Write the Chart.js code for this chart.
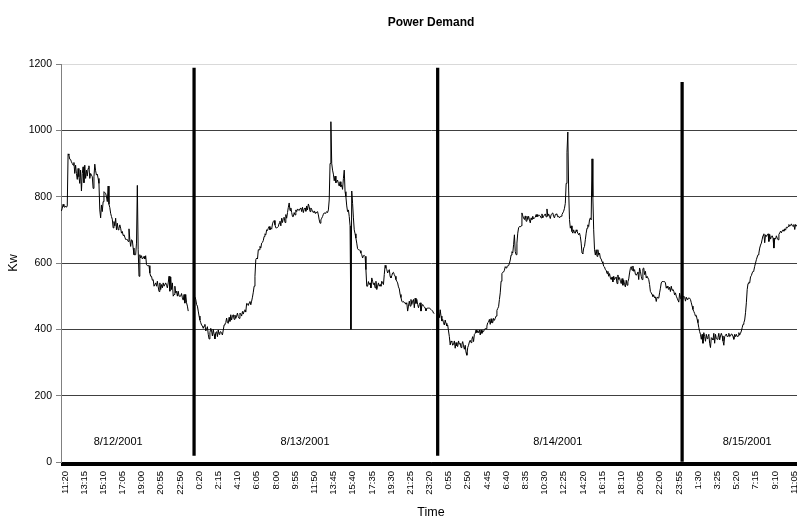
<!DOCTYPE html>
<html>
<head>
<meta charset="utf-8">
<script src="https://cdn.jsdelivr.net/npm/chart.js@4/dist/chart.umd.min.js"></script>
<style>
html,body{margin:0;padding:0;overflow:hidden;background:#fff}
#wrap{width:801px;height:527px}
</style>
</head>
<body>
<div id="wrap"><canvas id="c" width="801" height="527"></canvas></div>
<script>
// ---- tick labels shown on the category axis (one every 23 categories) ----
const tickLabels = ['11:20','13:15','15:10','17:05','19:00','20:55','22:50',
  '0:20','2:15','4:10','6:05','8:00','9:55','11:50','13:45','15:40','17:35','19:30','21:25','23:20',
  '0:55','2:50','4:45','6:40','8:35','10:30','12:25','14:20','16:15','18:10','20:05','22:00','23:55',
  '1:30','3:25','5:20','7:15','9:10','11:05'];
const tickEvery = 23;

// ---- power demand (Kw), 5-minute readings per day ----
const day1Kw = [757,765,777,770,768,772,768,772,929,925,
913,912,905,900,895,903,870,895,870,852,
885,860,840,880,817,870,890,842,895,855,
880,862,885,893,855,870,865,860,825,860,
898,878,865,868,855,840,760,736,775,755,
785,815,812,810,800,785,832,777,767,750,
740,732,706,725,712,735,700,720,700,705,
715,705,690,695,683,685,678,671,671,671,
665,703,670,650,670,668,645,625,625,625,
660,834,640,560,625,615,622,612,615,620,
612,622,595,592,592,592,570,560,560,548,
550,530,530,540,530,545,528,514,540,520,
535,525,540,530,530,540,533,525,540,560,
515,558,520,540,500,505,530,510,515,500,
515,500,500,500,508,495,488,505,479,505,
480,470,455];

const day2Kw = [498,490,475,470,455,440,428,420,413,410,
403,410,415,395,400,408,385,371,390,403,
395,380,400,385,371,390,393,378,398,385,
392,393,388,383,398,413,416,420,434,420,
418,436,424,444,428,440,444,430,443,433,
440,449,438,433,449,446,440,454,446,455,
459,452,478,477,472,480,484,474,485,497,
512,530,560,610,615,612,640,640,650,645,
660,662,668,680,688,685,700,698,705,710,
700,705,702,718,725,728,715,706,706,707,
710,720,726,712,735,722,735,738,722,746,
735,752,768,781,758,766,752,740,740,752,
745,760,755,763,760,758,764,766,755,768,
752,762,766,756,772,760,778,770,755,766,
762,755,752,757,750,754,752,755,745,730,
720,730,735,740,747,751,750,751,755,752,
760,790,900,1026,900,880,868,848,862,842,
845,850,840,832,845,830,835,822,855,880,
815,800,772,755,760,740,712,400,817,780,
736,700,688,675,660,643,640,640,637,630,
625,615,622,623,620,580,530,530,544,535,
540,525,555,545,535,540,525,545,520,530,
540,530,535,530,545,540,535,565,593,585,
580,570,575,580,560,555,562,570,572,565,
560,550,545,540,528,522,505,496,485,482,
484,480,480,476,480,455,470,485,470,490,
475,485,490,465,494,478,490,475,465,475,
480,455,470,475,470,468,464,456,462,464,
464,464,462,460,460,455,449,448];

const day3Kw = [448,435,459,440,425,430,420,413,
428,418,410,413,395,378,353,365,362,352,
355,365,343,360,350,348,365,355,358,345,
355,363,350,340,352,330,322,345,352,362,
367,360,370,378,363,385,388,398,390,395,
390,398,383,398,388,395,393,400,402,402,
410,420,422,430,415,432,420,420,433,427,
433,440,457,463,468,490,510,545,568,572,
573,578,589,585,590,591,592,599,609,624,
634,630,655,685,634,625,660,690,706,710,
709,712,751,742,735,731,742,726,741,731,
741,730,721,736,731,741,733,736,738,746,
739,746,741,744,742,736,748,736,741,745,
748,739,763,741,748,741,734,746,746,751,
740,736,746,748,746,739,741,736,740,741,
746,751,756,765,780,840,934,995,820,731,
705,712,695,690,700,691,690,700,695,690,
685,690,680,660,630,628,645,650,670,690,
705,715,710,730,736,730,914,800,700,640,
624,640,620,640,625,630,615,612,604,600,
590,588,580,578,568,575,560,568,555,550,
558,543,560,550,555,558,538,564,550,556,
545,538,553,533,548,535,528,548,533,543,
552,570,584,589,578,591,575,580,566,563,
568,573,550,585,575,560,550,583,585,565,
575,555,560,560,550,535,514,510,505,499,
503,495,498,484,497,497,494,510,524,540,
544,544,544,544,540,524,530,525,520,527,
514,530,518,520,515,504,510,500,494,494,
482,509,495,490];

const day4Kw = [490,495,500,497,485,497,
490,494,494,494,490,480,470,460,454,448,
440,442,430,420,405,393,385,370,385,358,
390,378,364,385,372,378,385,358,345,375,
372,368,388,358,385,372,370,375,388,368,
380,388,380,365,352,378,382,386,378,380,
388,378,380,386,385,378,370,385,378,385,
378,380,390,383,388,395,405,415,420,428,
450,480,520,538,542,540,558,562,570,575,
578,590,600,610,618,625,630,645,654,660,
672,683,688,661,685,680,685,688,665,686,
672,680,682,675,645,675,672,682,675,670,
686,691,696,691,697,700,696,703,699,708,
706,710,716,711,713,718,712,711,716,701,
716,711,715,710,718,712,715];

// empty categories after day 1, day 2, day 3
const gapAfterDay = [7, 4, 0];

// day separators (category index and Kw range)
const separatorAt = [159, 451, 744];
const separatorRange = [[20, 1188], [20, 1188], [0, 1145]];

// date annotations
const dayLabels = ['8/12/2001', '8/13/2001', '8/14/2001', '8/15/2001'];
const dayLabelAt = [68, 292, 595, 822];
const dayLabelKw = 61;

// ---- build the series ----
const days = [day1Kw, day2Kw, day3Kw, day4Kw];
let kw = [];
days.forEach((d, i) => {
  kw = kw.concat(d);
  if (i < gapAfterDay.length) kw = kw.concat(new Array(gapAfterDay[i]).fill(null));
});
const categories = kw.map((_, i) =>
  (i % tickEvery === 0 && tickLabels[i / tickEvery] !== undefined) ? tickLabels[i / tickEvery] : '');
const sepData = kw.map(() => null);
separatorAt.forEach((idx, i) => { sepData[idx] = separatorRange[i]; });

const FONT = "'Liberation Sans', Arial, Helvetica, sans-serif";

const dayLabelPlugin = {
  id: 'dayLabels',
  afterDatasetsDraw(chart) {
    const { ctx, scales: { x, y } } = chart;
    ctx.save();
    ctx.font = '11px ' + FONT;
    ctx.fillStyle = '#000';
    ctx.textAlign = 'center';
    ctx.textBaseline = 'middle';
    dayLabels.forEach((t, i) => {
      ctx.fillText(t, x.getPixelForValue(dayLabelAt[i]), y.getPixelForValue(dayLabelKw));
    });
    ctx.restore();
  }
};

new Chart(document.getElementById('c'), {
  type: 'line',
  data: {
    labels: categories,
    datasets: [
      { type: 'line', label: 'Kw', data: kw, borderColor: '#000', borderWidth: 1,
        pointRadius: 0, tension: 0, spanGaps: false, order: 2 },
      { type: 'bar', label: 'Day', data: sepData, backgroundColor: '#000',
        barThickness: 2.6, order: 1 }
    ]
  },
  options: {
    responsive: false,
    animation: false,
    layout: { padding: 0 },
    plugins: {
      legend: { display: false },
      tooltip: { enabled: false },
      title: {
        display: true, text: 'Power Demand', fullSize: false, color: '#000',
        font: { family: FONT, size: 12, weight: 'bold' },
        padding: { top: 15, bottom: 34.6 }
      }
    },
    scales: {
      x: {
        type: 'category',
        offset: true,
        grid: { offset: true, drawOnChartArea: false, drawTicks: true, tickLength: 4, color: '#000', lineWidth: 1 },
        border: { color: '#000' },
        ticks: { autoSkip: false, maxRotation: 90, minRotation: 90, padding: 5, labelOffset: 3.5,
                 color: '#000', font: { family: FONT, size: 9.5 } },
        title: { display: true, text: 'Time', color: '#000', font: { family: FONT, size: 12.5 },
                 padding: { top: 0, bottom: 6.5 } },
        afterFit(s) { s.height = 65; s.paddingLeft = 0; s.paddingRight = 0; }
      },
      y: {
        min: 0, max: 1200,
        ticks: { stepSize: 200, padding: 4, color: '#000', font: { family: FONT, size: 10.5 },
                 callback: v => String(v) },
        grid: { color: c => (c.tick && c.tick.value === 1200) ? '#d9d9d9' : '#404040',
                tickColor: '#808080', tickLength: 5, lineWidth: 1 },
        border: { color: '#808080' },
        title: { display: true, text: 'Kw', color: '#000', font: { family: FONT, size: 12.5 },
                 padding: { top: 6.5, bottom: 0 } },
        afterFit(s) { s.width = 61; }
      }
    }
  },
  plugins: [dayLabelPlugin]
});
</script>
</body>
</html>
